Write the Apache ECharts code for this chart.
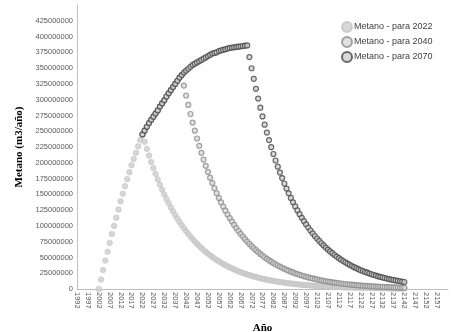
<!DOCTYPE html>
<html>
<head>
<meta charset="utf-8">
<script src="https://cdn.jsdelivr.net/npm/echarts@6/dist/echarts.min.js"></script>
<style>
    html, body { margin: 0; padding: 0; background: #fff; }
    #chart { width: 452px; height: 332px; }
</style>
</head>
<body>
<div id="chart"></div>
<script>
    // valores en millones de m3/año
    var axisStart = 1992;
    var firstYear = 2002;
    var projStart = 2022;

    // crecimiento común 2002..2070
    var rise = [0, 15, 30, 45, 59, 73, 87, 100, 113, 126, 139, 151, 163, 174, 185, 196, 206, 216, 226, 236, 245,
        251, 257, 263, 268, 273, 278, 283, 289, 294, 299, 305, 310, 315, 320, 325, 330, 335, 339,
        343, 346, 349, 352, 355, 357, 359, 361, 363, 365, 367, 369, 371, 373, 374, 375, 377, 378, 379, 380,
        381, 382, 382.5, 383, 383.5, 384, 384.5, 385, 385.5, 386];

    // decaimiento despues del cierre (2023..2142)
    var decay2022 = [233.2, 222.0, 211.4, 201.2, 191.6, 182.4, 173.6, 165.3, 157.4, 149.8,
        142.6, 135.8, 129.2, 123.0, 117.1, 111.5, 106.2, 101.1, 96.2, 91.6,
        87.2, 83.0, 79.0, 75.2, 71.6, 68.2, 64.9, 61.8, 58.8, 56.0,
        53.3, 50.7, 48.3, 46.0, 43.8, 41.7, 39.7, 37.8, 35.9, 34.2,
        32.6, 31.0, 29.5, 28.1, 26.7, 25.5, 24.2, 23.1, 22.0, 20.9,
        19.9, 18.9, 18.0, 17.2, 16.3, 15.6, 14.8, 14.1, 13.4, 12.8,
        12.2, 11.6, 11.0, 10.5, 10.0, 9.5, 9.1, 8.6, 8.2, 7.8,
        7.4, 7.1, 6.7, 6.4, 6.1, 5.8, 5.5, 5.3, 5.0, 4.8,
        4.5, 4.3, 4.1, 3.9, 3.7, 3.5, 3.4, 3.2, 3.1, 2.9,
        2.8, 2.6, 2.5, 2.4, 2.3, 2.2, 2.1, 2.0, 1.9, 1.8,
        1.7, 1.6, 1.5, 1.5, 1.4, 1.3, 1.3, 1.2, 1.1, 1.1,
        1.0, 1.0, 0.9, 0.9, 0.8, 0.8, 0.8, 0.7, 0.7, 0.7];

    // 2041..2142
    var decay2040 = [322.4, 306.6, 291.6, 277.3, 263.7, 250.8, 238.5, 226.8, 215.7, 205.1,
        195.1, 185.5, 176.4, 167.8, 159.6, 151.7, 144.3, 137.2, 130.5, 124.1,
        118.0, 112.3, 106.8, 101.5, 96.6, 91.8, 87.3, 83.1, 79.0, 75.1,
        71.5, 68.0, 64.6, 61.5, 58.5, 55.6, 52.9, 50.3, 47.8, 45.5,
        43.3, 41.1, 39.1, 37.2, 35.4, 33.7, 32.0, 30.4, 29.0, 27.5,
        26.2, 24.9, 23.7, 22.5, 21.4, 20.4, 19.4, 18.4, 17.5, 16.7,
        15.9, 15.1, 14.3, 13.6, 13.0, 12.3, 11.7, 11.2, 10.6, 10.1,
        9.6, 9.1, 8.7, 8.3, 7.9, 7.5, 7.1, 6.8, 6.4, 6.1,
        5.8, 5.5, 5.3, 5.0, 4.8, 4.5, 4.3, 4.1, 3.9, 3.7,
        3.5, 3.4, 3.2, 3.0, 2.9, 2.8, 2.6, 2.5, 2.4, 2.3,
        2.1, 2.0];

    // 2071..2142
    var decay2070 = [367.5, 349.8, 333.0, 317.1, 301.8, 287.3, 273.5, 260.4, 247.9, 236.0,
        224.7, 213.9, 203.6, 193.8, 184.5, 175.7, 167.2, 159.2, 151.6, 144.3,
        137.4, 130.8, 124.5, 118.5, 112.8, 107.4, 102.3, 97.3, 92.7, 88.2,
        84.0, 80.0, 76.1, 72.5, 69.0, 65.7, 62.5, 59.5, 56.7, 53.9,
        51.4, 48.9, 46.5, 44.3, 42.2, 40.2, 38.2, 36.4, 34.6, 33.0,
        31.4, 29.9, 28.4, 27.1, 25.8, 24.5, 23.4, 22.2, 21.2, 20.1,
        19.2, 18.3, 17.4, 16.5, 15.7, 15.0, 14.3, 13.6, 12.9, 12.3,
        11.7, 11.1];

    var names = ['Metano - para 2022', 'Metano - para 2040', 'Metano - para 2070'];

    // arma los puntos [año, m3] de una serie
    function buildPoints(fromYear, closeYear, decay) {
        var pts = [];
        for (var y = fromYear; y <= closeYear; y++) {
            pts.push([y - axisStart, rise[y - firstYear] * 1e6]);
        }
        for (var i = 0; i < decay.length; i++) {
            pts.push([closeYear + 1 + i - axisStart, decay[i] * 1e6]);
        }
        return pts;
    }

    var myChart = echarts.init(document.getElementById('chart'));
    myChart.setOption({
        animation: false,
        grid: {
            left: 77,
            right: 4,
            top: 5,
            bottom: 43,
            outerBoundsMode: 'none'
        },
        legend: {
            orient: 'vertical',
            left: 336,
            top: 16,
            itemGap: 3,
            itemWidth: 10,
            itemHeight: 10,
            icon: 'circle',
            textStyle: {
                fontFamily: 'Liberation Sans, Arial',
                fontSize: 9,
                color: '#404040',
                padding: [0, 0, 0, -3]
            },
            data: names
        },
        xAxis: {
            type: 'value',
            min: 0,
            max: 170,
            interval: 5,
            name: 'Año',
            nameLocation: 'middle',
            nameGap: 34,
            nameTextStyle: {
                fontFamily: 'Liberation Serif, Times New Roman',
                fontWeight: 'bold',
                fontSize: 11,
                color: '#000'
            },
            axisLine: { lineStyle: { color: '#bfbfbf' } },
            axisTick: { show: false },
            splitLine: { show: false },
            axisLabel: {
                rotate: -90,
                margin: 3,
                showMaxLabel: false,
                fontFamily: 'Liberation Sans, Arial',
                fontSize: 7.5,
                color: '#595959',
                formatter: function (v) { return v + axisStart; }
            }
        },
        yAxis: {
            type: 'value',
            min: 0,
            max: 450000000,
            interval: 25000000,
            name: 'Metano (m3/año)',
            nameLocation: 'middle',
            nameGap: 52,
            nameTextStyle: {
                fontFamily: 'Liberation Serif, Times New Roman',
                fontWeight: 'bold',
                fontSize: 11,
                color: '#000'
            },
            axisLine: { show: true, lineStyle: { color: '#bfbfbf' } },
            axisTick: { show: false },
            splitLine: { show: false },
            axisLabel: {
                margin: 4,
                showMaxLabel: false,
                fontFamily: 'Liberation Sans, Arial',
                fontSize: 7.5,
                color: '#595959',
                formatter: function (v) { return String(v); }
            }
        },
        series: [
            {
                name: names[0],
                type: 'scatter',
                symbolSize: 5.5,
                itemStyle: { color: '#cdcdcd', borderColor: '#c2c2c2', borderWidth: 0.8 },
                data: buildPoints(firstYear, 2022, decay2022)
            },
            {
                name: names[1],
                type: 'scatter',
                symbolSize: 5,
                itemStyle: { color: '#dadada', borderColor: '#8c8c8c', borderWidth: 1.2 },
                data: buildPoints(projStart, 2040, decay2040)
            },
            {
                name: names[2],
                type: 'scatter',
                symbolSize: 5,
                itemStyle: { color: '#cfcfcf', borderColor: '#474747', borderWidth: 1.2 },
                data: buildPoints(projStart, 2070, decay2070)
            }
        ]
    });
</script>
</body>
</html>
